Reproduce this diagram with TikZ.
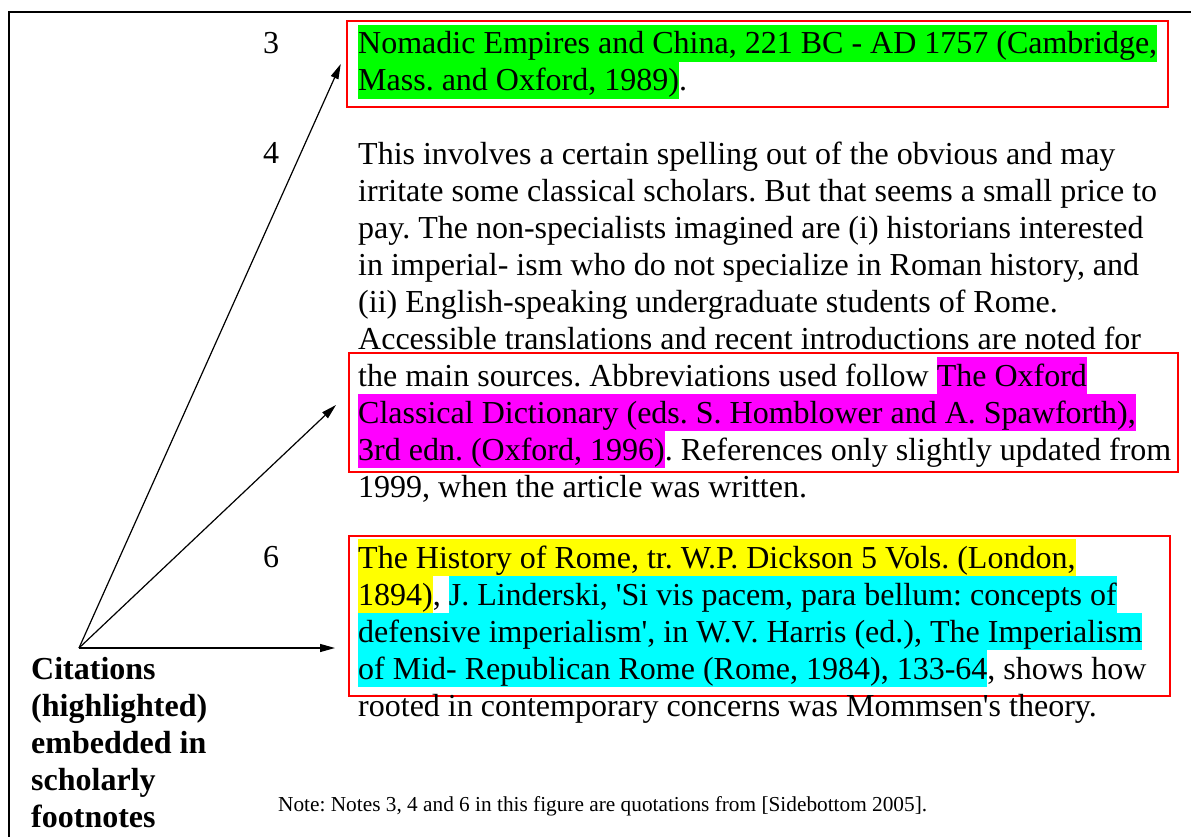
\documentclass[tikz,border=0pt]{standalone}
\usepackage{fontspec}
\setmainfont{Liberation Serif}
\usetikzlibrary{arrows.meta, positioning}
\definecolor{boxred}{RGB}{255, 0, 0}
\definecolor{hlgreen}{RGB}{0, 255, 0}
\definecolor{hlmagenta}{RGB}{255, 0, 255}
\definecolor{hlyellow}{RGB}{255, 255, 0}
\definecolor{hlcyan}{RGB}{0, 255, 255}
\newcommand{\hlt}[2]{{\setlength{\fboxsep}{0pt}\colorbox{#1}{\rule[-8pt]{0pt}{37pt}#2}}}
\newcommand{\sq}{\textquotesingle}
\frenchspacing

\begin{document}
\begin{tikzpicture}[x=1pt, y=-1pt,
  fntext/.style={font=\fontsize{32}{37}\selectfont, align=left, inner sep=0pt, anchor=base west},
  fnnum/.style={font=\fontsize{32}{37}\selectfont, inner sep=0pt, anchor=base west},
  citebox/.style={draw=boxred, line width=2.5pt, inner sep=0pt},
  citearrow/.style={-{Triangle[length=15pt, width=8pt]}, line width=1.2pt}]
  \useasboundingbox (0,0) rectangle (1191,837);

  % frame
  \draw[line width=1.5pt] (9,837) -- (9,12) -- (243,12);
  \draw[line width=2pt] (243,12) -- (1191,12);

  % red boxes round the cited passages
  \node[citebox, minimum width=821pt, minimum height=86pt] (box1) at (757.5, 64) {};
  \node[citebox, minimum width=829pt, minimum height=119pt] (box2) at (763.5, 412.5) {};
  \node[citebox, minimum width=821pt, minimum height=160pt] (box3) at (759.5, 616) {};

  % footnote numbers
  \node[fnnum] (num3) at (263, 54) {3};
  \node[fnnum] (num4) at (263, 164) {4};
  \node[fnnum] (num6) at (263, 567) {6};

  % footnote texts (placed at the baseline of their last line)
  \node[fntext] (note3) at (358, 91) {%
    \hlt{hlgreen}{Nomadic Empires and China, 221 BC - AD 1757 (Cambridge,}\\
    \hlt{hlgreen}{Mass. and Oxford, 1989)}.};
  \node[fntext] (note4) at (358, 497) {%
    This involves a certain spelling out of the obvious and may\\
    irritate some classical scholars. But that seems a small price to\\
    pay. The non-specialists imagined are (i) historians interested\\
    in imperial- ism who do not specialize in Roman history, and\\
    (ii) English-speaking undergraduate students of Rome.\\
    Accessible translations and recent introductions are noted for\\
    the main sources. Abbreviations used follow \hlt{hlmagenta}{The Oxford}\\
    \hlt{hlmagenta}{Classical Dictionary (eds. S. Homblower and A. Spawforth),}\\
    \hlt{hlmagenta}{3rd edn. (Oxford, 1996)}. References only slightly updated from\\
    1999, when the article was written.};
  \node[fntext] (note6) at (358, 716) {%
    \hlt{hlyellow}{The History of Rome, tr. W.P. Dickson 5 Vols. (London,}\\
    \hlt{hlyellow}{1894)}, \hlt{hlcyan}{J. Linderski, \sq Si vis pacem, para bellum: concepts of}\\
    \hlt{hlcyan}{defensive imperialism\sq, in W.V. Harris (ed.), The Imperialism}\\
    \hlt{hlcyan}{of Mid- Republican Rome (Rome, 1984), 133-64}, shows how\\
    rooted in contemporary concerns was Mommsen\sq s theory.};

  % label and arrows
  \node[fntext, font=\fontsize{32}{37}\selectfont\bfseries] (label) at (31, 827) {%
    Citations\\(highlighted)\\embedded in\\scholarly\\footnotes};
  \coordinate (src) at (79, 648);
  \coordinate (tip1) at ([xshift=-5pt]box1.west);
  \coordinate (tip2) at (336, 405);
  \coordinate (tip3) at (335, 648);
  \draw[citearrow] (src) -- (tip1);
  \draw[citearrow] (src) -- (tip2);
  \draw[citearrow] (src) -- (tip3);

  \node[inner sep=0pt, anchor=base west, font=\fontsize{21.3}{25}\selectfont] (source) at (278, 811)
    {Note: Notes 3, 4 and 6 in this figure are quotations from [Sidebottom 2005].};
\end{tikzpicture}
\end{document}
